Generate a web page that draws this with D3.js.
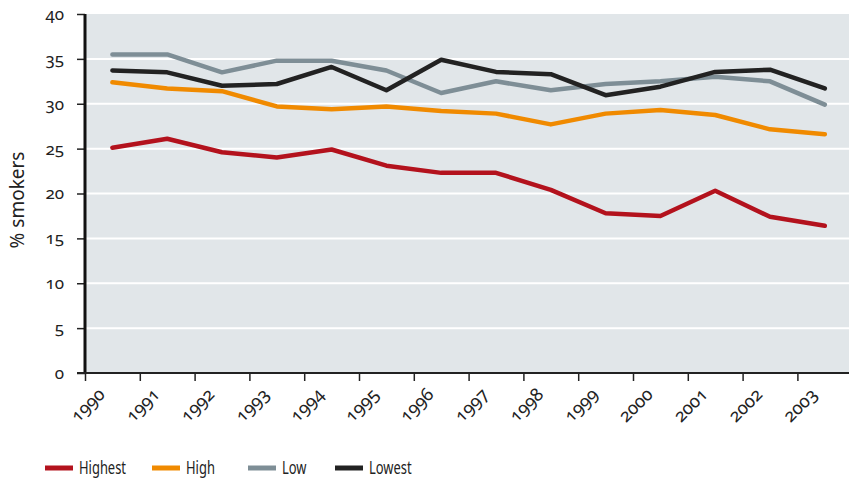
<!DOCTYPE html>
<html>
<head>
<meta charset="utf-8">
<script src="https://cdn.jsdelivr.net/npm/d3@7"></script>
<style>
  body { margin: 0; background: #fff; }
  svg text { font-family: "Noto Sans", "Open Sans", sans-serif; fill: #222; }
  .num { font-variant-numeric: oldstyle-nums; font-feature-settings: "onum" 1; }
</style>
</head>
<body>
<script>
var years = [1990, 1991, 1992, 1993, 1994, 1995, 1996, 1997, 1998, 1999, 2000, 2001, 2002, 2003];
var yTicks = [0, 5, 10, 15, 20, 25, 30, 35, 40];

var seriesNames = ["Highest", "High", "Low", "Lowest"];
var seriesColors = ["#b3121d", "#f08a00", "#7e8e96", "#222222"];

var highest = [25.1, 26.1, 24.6, 24.0, 24.9, 23.1, 22.3, 22.3, 20.4, 17.8, 17.5, 20.3, 17.4, 16.4];
var high    = [32.4, 31.7, 31.4, 29.7, 29.4, 29.7, 29.2, 28.9, 27.7, 28.9, 29.3, 28.75, 27.15, 26.6];
var low     = [35.5, 35.5, 33.5, 34.8, 34.8, 33.7, 31.2, 32.5, 31.5, 32.2, 32.5, 33.0, 32.5, 29.9];
var lowest  = [33.7, 33.5, 32.0, 32.2, 34.1, 31.5, 34.9, 33.55, 33.3, 30.95, 31.9, 33.55, 33.8, 31.7];

var seriesValues = [highest, high, low, lowest];

var width = 849,
    height = 482,
    margin = { top: 14, right: 0, bottom: 109, left: 85 };

var x = d3.scaleLinear()
    .domain([1990, 2004])
    .range([margin.left, margin.left + 14 * 54.8]);

var y = d3.scaleLinear()
    .domain([0, 40])
    .range([373, 14]);

var svg = d3.select("body").append("svg")
    .attr("width", width)
    .attr("height", height);

// plot background
svg.append("rect")
    .attr("x", margin.left)
    .attr("y", y(40))
    .attr("width", width - margin.left)
    .attr("height", y(0) - y(40))
    .attr("fill", "#e1e6e9");

// gridlines
svg.append("g")
    .selectAll("line")
    .data(yTicks.filter(function (d) { return d > 0 && d < 40; }))
    .enter().append("line")
    .attr("x1", margin.left)
    .attr("x2", width)
    .attr("y1", function (d) { return y(d); })
    .attr("y2", function (d) { return y(d); })
    .attr("stroke", "#fff")
    .attr("stroke-width", 2);

// lines
var line = d3.line()
    .x(function (d, i) { return x(years[i] + 0.5); })
    .y(function (d) { return y(d); });

svg.append("g")
    .selectAll("path")
    .data(seriesValues)
    .enter().append("path")
    .attr("d", line)
    .attr("fill", "none")
    .attr("stroke", function (d, i) { return seriesColors[i]; })
    .attr("stroke-width", 4.5)
    .attr("stroke-linejoin", "round")
    .attr("stroke-linecap", "round");

// y axis
var yAxis = svg.append("g")
    .attr("class", "num")
    .attr("transform", "translate(" + margin.left + ",0)")
    .call(d3.axisLeft(y).tickValues(yTicks).tickSize(8).tickPadding(13));
yAxis.select(".domain").remove();
yAxis.selectAll(".tick line").attr("stroke", "#222").attr("stroke-width", 1.5);
yAxis.selectAll(".tick text").attr("font-size", 17).attr("fill", "#333");
yAxis.append("line")
    .attr("x1", 0).attr("x2", 0)
    .attr("y1", y(40)).attr("y2", y(0) + 1)
    .attr("stroke", "#111")
    .attr("stroke-width", 3);

// x axis
var xAxis = svg.append("g")
    .attr("class", "num")
    .attr("transform", "translate(0," + y(0) + ")")
    .call(d3.axisBottom(x).tickValues(years).tickSize(8).tickFormat(d3.format("d")));
xAxis.select(".domain").remove();
xAxis.selectAll(".tick line").attr("stroke", "#222").attr("stroke-width", 1.5);
xAxis.selectAll(".tick text")
    .attr("font-size", 18)
    .attr("fill", "#333")
    .attr("text-anchor", "end")
    .attr("y", null)
    .attr("dy", "0.35em")
    .attr("transform", "translate(16,18) rotate(-45)");
xAxis.append("line")
    .attr("x1", margin.left - 8).attr("x2", width)
    .attr("y1", 0).attr("y2", 0)
    .attr("stroke", "#222")
    .attr("stroke-width", 2);

// y label
svg.append("text")
    .attr("transform", "translate(24,200) rotate(-90)")
    .attr("text-anchor", "middle")
    .attr("font-size", 19)
    .attr("fill", "#333")
    .text("% smokers");

// legend
var legendX = [45, 152, 248, 335];
var legend = svg.append("g")
    .selectAll("g")
    .data(seriesNames)
    .enter().append("g")
    .attr("transform", function (d, i) { return "translate(" + legendX[i] + ",468)"; });

legend.append("line")
    .attr("x1", 0).attr("x2", 28)
    .attr("y1", 0).attr("y2", 0)
    .attr("stroke", function (d, i) { return seriesColors[i]; })
    .attr("stroke-width", 5);

legend.append("text")
    .attr("transform", "translate(34,0) scale(0.74,1)")
    .attr("dy", "0.35em")
    .attr("font-size", 17.5)
    .attr("fill", "#333")
    .text(function (d) { return d; });
</script>
</body>
</html>
